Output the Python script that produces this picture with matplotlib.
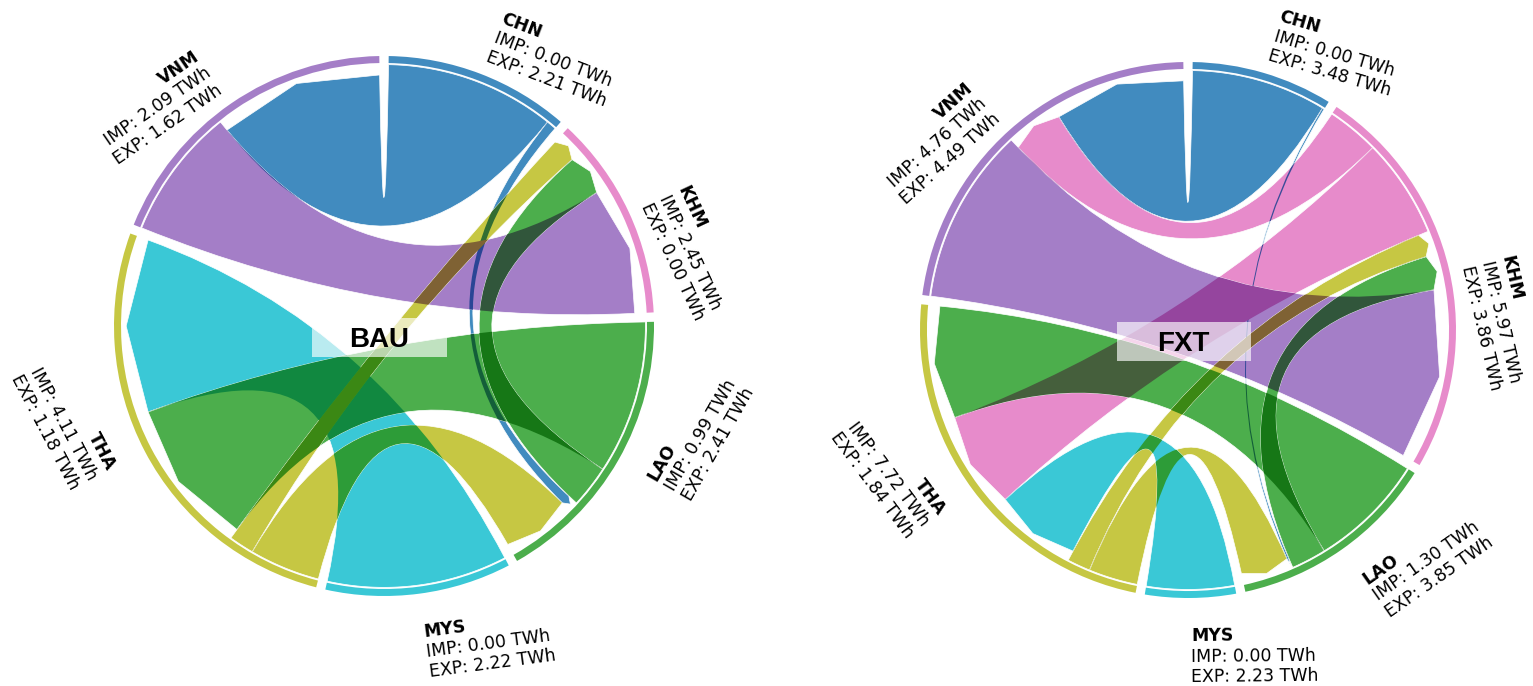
import numpy as np
import matplotlib
matplotlib.use('Agg')
import matplotlib.pyplot as plt
from matplotlib.path import Path
from matplotlib.patches import PathPatch, Wedge, Rectangle
from matplotlib.colors import to_rgb

# ---- data ----
nodes = ['CHN', 'KHM', 'LAO', 'MYS', 'THA', 'VNM']
node_colors = ['#1f77b4', '#e377c2', '#2ca02c', '#17becf', '#bcbd22', '#9467bd']

bau_imp = [0.00, 2.45, 0.99, 0.00, 4.11, 2.09]
bau_exp = [2.21, 0.00, 2.41, 2.22, 1.18, 1.62]
bau_src = ['CHN', 'CHN', 'VNM', 'MYS', 'LAO', 'LAO', 'THA', 'THA']
bau_dst = ['VNM', 'LAO', 'KHM', 'THA', 'THA', 'KHM', 'KHM', 'LAO']
bau_val = [2.09, 0.12, 1.62, 2.22, 1.89, 0.52, 0.31, 0.87]

fxt_imp = [0.00, 5.97, 1.30, 0.00, 7.72, 4.76]
fxt_exp = [3.48, 3.86, 3.85, 2.23, 1.84, 4.49]
fxt_src = ['CHN', 'CHN', 'KHM', 'KHM', 'VNM', 'LAO', 'LAO', 'THA', 'THA', 'MYS']
fxt_dst = ['VNM', 'LAO', 'VNM', 'THA', 'KHM', 'THA', 'KHM', 'KHM', 'LAO', 'THA']
fxt_val = [3.43, 0.05, 1.33, 2.53, 4.49, 2.96, 0.89, 0.59, 1.25, 2.23]

# clockwise order of chord ends on every arc
bau_order = {
    'CHN': [('out', 'VNM'), ('out', 'LAO')],
    'KHM': [('in', 'THA'), ('in', 'LAO'), ('in', 'VNM')],
    'LAO': [('out', 'THA'), ('out', 'KHM'), ('in', 'CHN'), ('in', 'THA')],
    'MYS': [('out', 'THA')],
    'THA': [('out', 'LAO'), ('out', 'KHM'), ('in', 'LAO'), ('in', 'MYS')],
    'VNM': [('out', 'KHM'), ('in', 'CHN')],
}
fxt_order = {
    'CHN': [('out', 'VNM'), ('out', 'LAO')],
    'KHM': [('out', 'VNM'), ('out', 'THA'), ('in', 'THA'), ('in', 'LAO'), ('in', 'VNM')],
    'LAO': [('out', 'THA'), ('out', 'KHM'), ('in', 'CHN'), ('in', 'THA')],
    'MYS': [('out', 'THA')],
    'THA': [('out', 'LAO'), ('out', 'KHM'), ('in', 'MYS'), ('in', 'KHM'), ('in', 'LAO')],
    'VNM': [('out', 'KHM'), ('in', 'KHM'), ('in', 'CHN')],
}

ALPHA = 0.85
GAP = 2.0
R_IN, R_SRC, R_TGT, R_TIP = 0.974, 0.968, 0.93, 0.955


def shade(c):
    c = np.array(to_rgb(c))
    return tuple(ALPHA * c + (1 - ALPHA))


def pol(ang, r):
    a = np.radians(ang)
    return (r * np.cos(a), r * np.sin(a))


def chord_path(s1, s2, t1, t2):
    angs = np.linspace(s1, s2, 60)
    verts = [pol(a, R_SRC) for a in angs]
    codes = [Path.MOVETO] + [Path.LINETO] * (len(angs) - 1)
    verts += [(0, 0), pol(t1, R_TGT), pol((t1 + t2) / 2, R_TIP), pol(t2, R_TGT),
              (0, 0), pol(s1, R_SRC), pol(s1, R_SRC)]
    codes += [Path.CURVE3, Path.CURVE3, Path.LINETO, Path.LINETO,
              Path.CURVE3, Path.CURVE3, Path.CLOSEPOLY]
    return Path(verts, codes)


def label(ax, ang, name, imp, exp):
    upper = np.sin(np.radians(ang)) >= 0
    ha = 'left' if np.cos(np.radians(ang)) >= 0 else 'right'
    lines = [(name, 'bold'), ('IMP: %.2f TWh' % imp, 'normal'), ('EXP: %.2f TWh' % exp, 'normal')]
    dl = 0.075
    if upper:
        rot, va = ang - 90, 'bottom'
        radii = [1.035 + 2 * dl, 1.035 + dl, 1.035]
    else:
        rot, va = ang + 90, 'top'
        radii = [1.11, 1.11 + dl, 1.11 + 2 * dl]
    for (txt, w), r in zip(lines, radii):
        x, y = pol(ang, r)
        ax.text(x, y, txt, rotation=rot, rotation_mode='anchor', ha=ha, va=va,
                fontsize=12.5, fontweight=w, family='DejaVu Sans', clip_on=False)


def chord_diagram(ax, imp, exp, src, dst, val, order, title):
    size = [i + e for i, e in zip(imp, exp)]
    scale = (360 - GAP * len(nodes)) / sum(size)
    flows = {(s, d): v for s, d, v in zip(src, dst, val)}
    cols = {n: shade(c) for n, c in zip(nodes, node_colors)}

    ends = {}
    start = 90 - GAP / 2
    for k, n in enumerate(nodes):
        end = start - size[k] * scale
        ax.add_patch(Wedge((0, 0), 1.0, end, start, width=1.0 - R_IN,
                           facecolor=cols[n], edgecolor='none', zorder=2))
        label(ax, (start + end) / 2, n, imp[k], exp[k])
        cur = start
        for kind, other in order[n]:
            key = (n, other) if kind == 'out' else (other, n)
            w = flows[key] * scale
            ends[(kind,) + key] = (cur, cur - w)
            cur -= w
        start = end - GAP

    chords = []
    for s, d in zip(src, dst):
        s1, s2 = ends[('out', s, d)]
        t1, t2 = ends[('in', s, d)]
        p = chord_path(s1, s2, t1, t2)
        ax.add_patch(PathPatch(p, facecolor=cols[s], edgecolor='white', lw=0.5, zorder=3))
        chords.append((p, np.array(cols[s])))

    # darker overlap where two chords cross
    for i in range(len(chords)):
        for j in range(i + 1, len(chords)):
            pi, ci = chords[i]
            pj, cj = chords[j]
            patch = PathPatch(pj, facecolor=tuple(ci * cj), edgecolor='none', zorder=4)
            ax.add_patch(patch)
            patch.set_clip_path(pi, ax.transData)

    ax.add_patch(Rectangle((-0.265, -0.115), 0.5, 0.145, facecolor='white',
                           alpha=0.65, edgecolor='none', zorder=6))
    ax.text(-0.018, -0.078, title, ha='center', va='baseline', fontsize=20,
            fontweight='bold', family='Liberation Sans', zorder=7)


fig = plt.figure(figsize=(15.33, 6.86), dpi=100)

ax1 = fig.add_axes([0, 0, 0.5, 1])
ax1.set_xlim(-384 / 270, (766.5 - 384) / 270)
ax1.set_ylim(-360 / 270, 326 / 270)
ax1.axis('off')
chord_diagram(ax1, bau_imp, bau_exp, bau_src, bau_dst, bau_val, bau_order, 'BAU')

ax2 = fig.add_axes([0.5, 0, 0.5, 1])
ax2.set_xlim(-421.5 / 268, (766.5 - 421.5) / 268)
ax2.set_ylim(-356 / 268, 330 / 268)
ax2.axis('off')
chord_diagram(ax2, fxt_imp, fxt_exp, fxt_src, fxt_dst, fxt_val, fxt_order, 'FXT')

fig.savefig('out.png', dpi=100)
